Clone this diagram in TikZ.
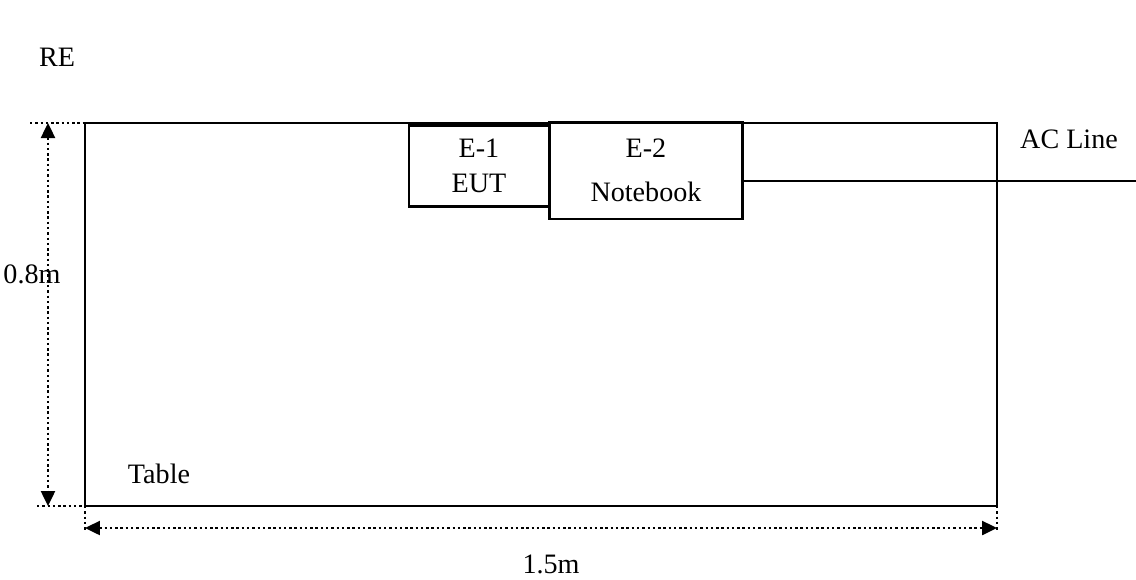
\documentclass[tikz,border=0pt]{standalone}
\usepackage{fontspec}
\setmainfont{Liberation Serif}
\usetikzlibrary{arrows.meta}
\usetikzlibrary{positioning}

\begin{document}
\begin{tikzpicture}[
    x=0.02cm, y=-0.02cm,
    font=\fontsize{16}{19}\selectfont,
    solid line/.style={line width=1.3pt},
    dim line/.style={line width=1.4pt, dash pattern=on 1.4pt off 1.6pt},
    dim arrow/.style={dim line, {Triangle[length=0.3cm,width=0.28cm]}-{Triangle[length=0.3cm,width=0.28cm]}},
    unit box/.style={draw, solid line, align=center, inner sep=0pt}
  ]
\useasboundingbox (0,0) rectangle (1136,579);
% table outline
\coordinate (tl) at (85,123); \coordinate (br) at (997,506);
\coordinate (tr) at (997,123); \coordinate (bl) at (85,506);
\draw[solid line] (tl) rectangle (br);

% equipment on the table
\node[unit box, minimum width=2.8cm, minimum height=1.62cm] (e1) at (479,166)
  {E-1\\[1pt]EUT};
\node[unit box, minimum width=3.86cm, minimum height=1.94cm] (e2) at (646,170.5)
  {E-2\\[6pt]Notebook};
\coordinate (acend) at (1136,181);
\draw[solid line] (e2.east |- acend) -- (acend);
\node (acl) at (1069,139) {AC Line};

% dimensions
\coordinate (vt) at (48,123); \coordinate (vb) at (48,506);
\coordinate (vtx) at (30,123); \coordinate (vbx) at (37,506);
\draw[dim line] (vtx) -- (tl);
\draw[dim line] (vbx) -- (bl);
\draw[dim arrow] (vt) -- (vb);
\coordinate (hl) at (85,528); \coordinate (hr) at (997,528);
\draw[dim line] (bl) -- ++(0,24);
\draw[dim line] (br) -- ++(0,24);
\draw[dim arrow] (hl) -- (hr);

\node (re) at (57,57) {RE};
\node (hgt) at (32,274) {0.8m};
\node (tbl) at (159,474) {Table};
\node (wid) at (551,564) {1.5m};
\end{tikzpicture}
\end{document}
